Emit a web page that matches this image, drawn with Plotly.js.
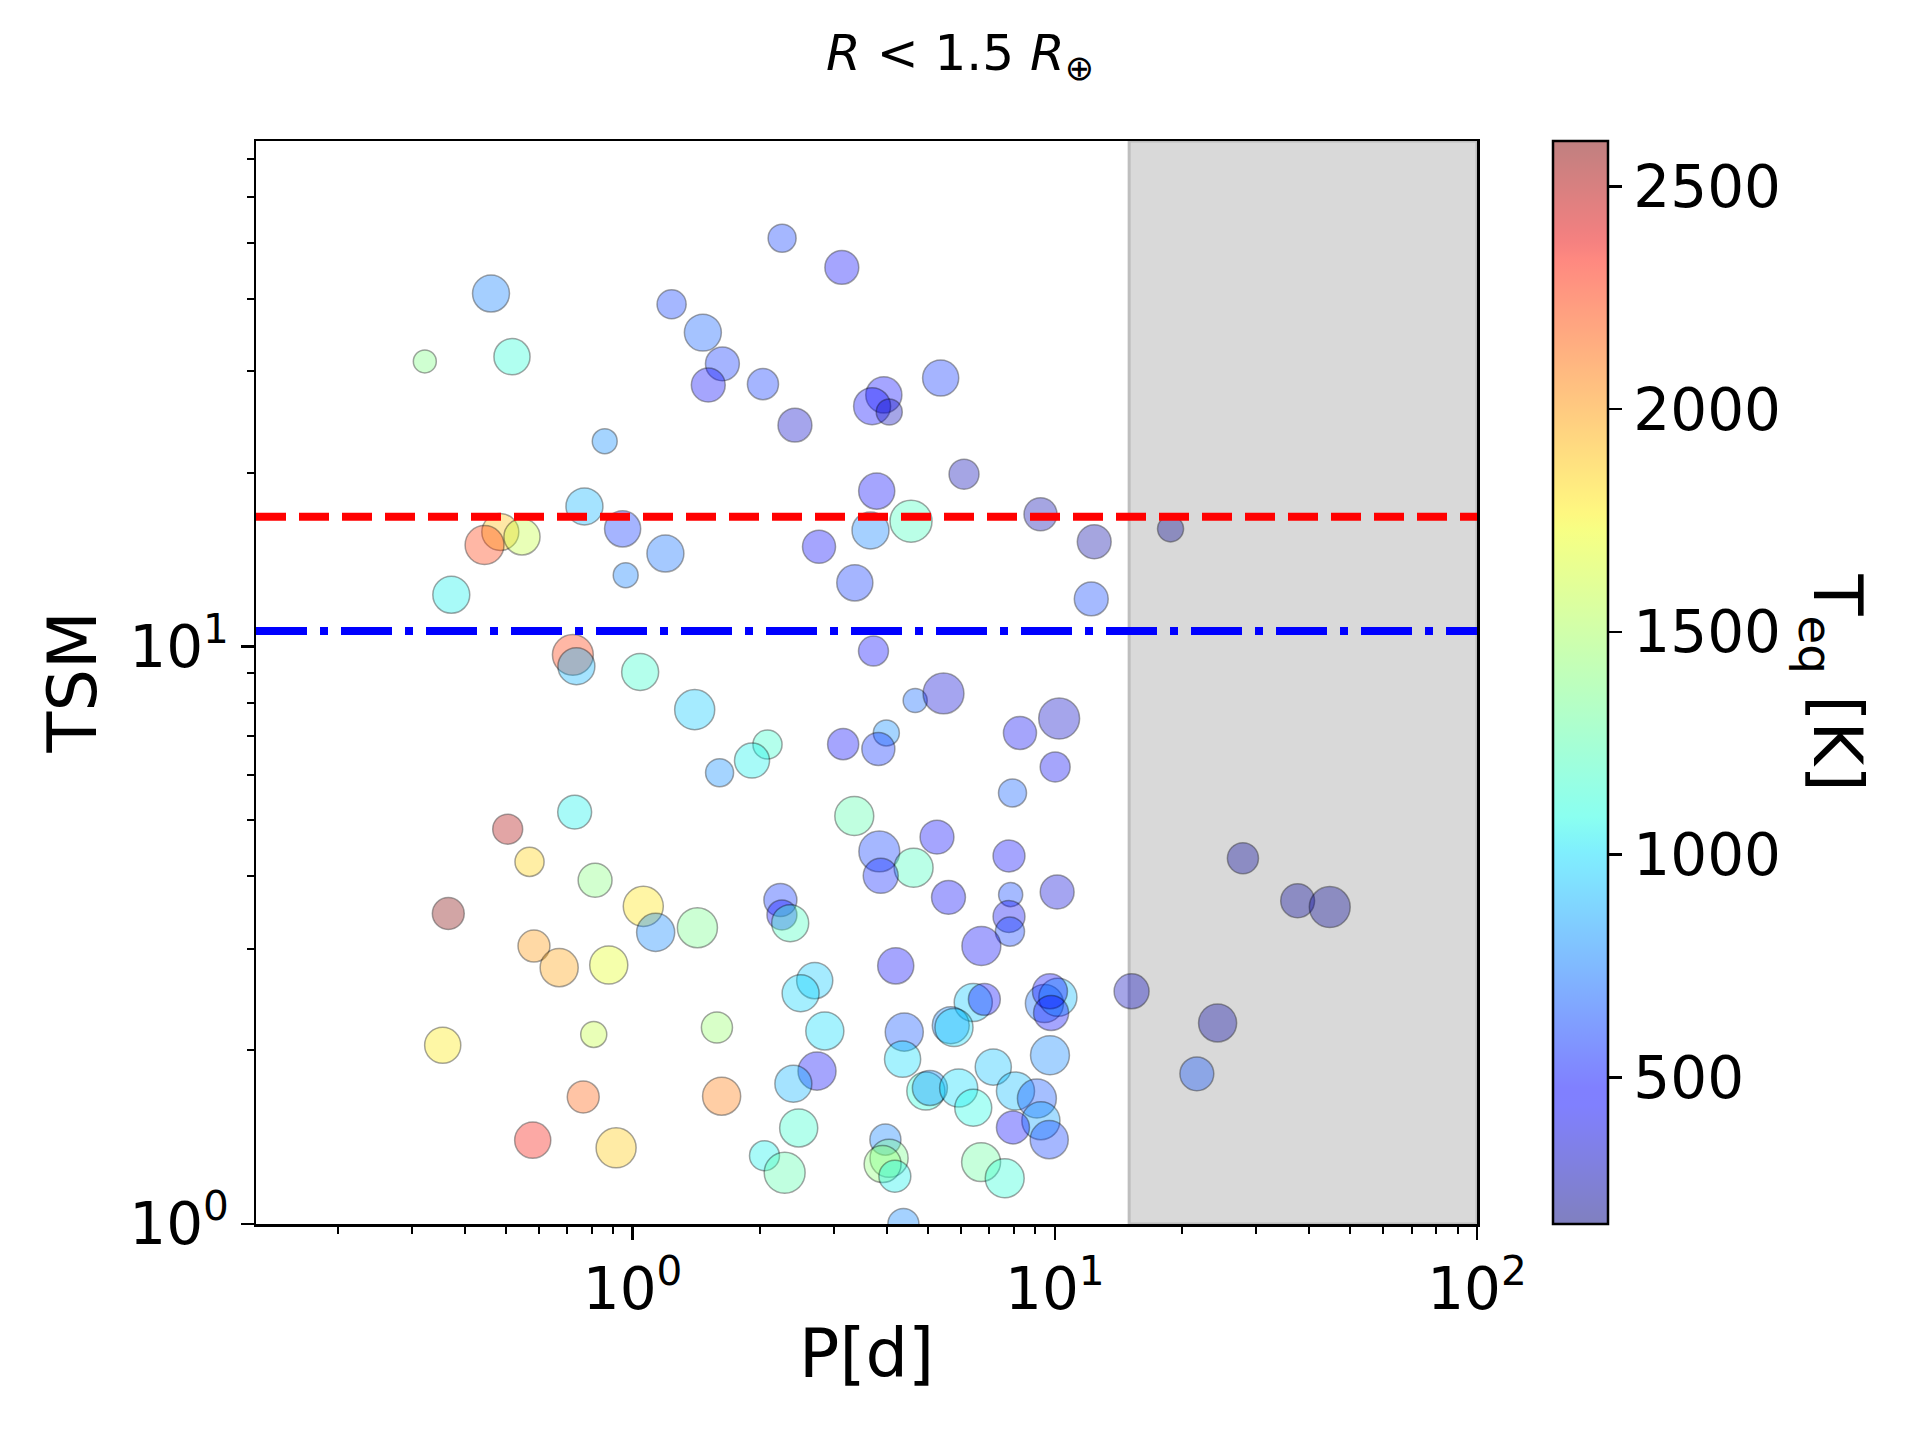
<!DOCTYPE html>
<html>
<head>
<meta charset="utf-8">
<script src="https://cdn.plot.ly/plotly-3.0.1.min.js"></script>
<style>
  html, body { margin: 0; padding: 0; background: #ffffff; }
  #chart { width: 1920px; height: 1440px; }
</style>
</head>
<body>
<div id="chart"></div>
<script>
// ---------------- data ----------------
// orbital period [days]
const period = [
  2.26, 3.13, 0.462, 1.237, 1.467, 0.322, 0.518, 1.632, 1.511, 2.036,
  5.366, 3.936, 3.692, 4.054, 2.424, 0.859, 6.095, 3.786, 0.769, 4.565,
  9.25, 18.8, 0.947, 0.486, 0.446, 0.547, 3.66, 2.764, 12.4, 1.196,
  0.963, 3.36, 0.372, 12.2,
  0.722, 0.736, 1.042, 1.403, 2.087, 1.918, 1.607, 3.153, 0.729, 0.506,
  0.570, 0.815, 3.35, 0.366, 1.060, 1.134, 1.424, 2.239, 2.258, 2.362,
  0.584, 0.670, 0.878, 2.70, 2.50, 2.853, 0.355, 0.809, 1.584, 2.734,
  2.403, 0.764, 1.625, 2.474, 0.580, 0.914, 2.053, 2.292,
  3.72, 4.67, 5.45, 10.24, 8.27, 3.99, 3.82, 10.02, 7.94, 5.26,
  3.84, 4.63, 3.87, 7.79, 10.13, 5.60, 7.86, 7.79, 7.83, 6.70,
  4.20, 15.2, 24.3, 21.7, 27.9, 37.6, 44.8,
  6.41, 6.81, 9.45, 10.17, 9.74, 9.80, 4.40, 4.36, 5.67, 5.77,
  9.74, 7.15, 4.95, 5.06, 5.92, 6.41, 8.07, 9.07, 9.27, 7.96,
  9.70, 3.97, 4.05, 3.91, 4.18, 6.69, 7.61, 4.38
];
// transmission spectroscopy metric
const tsm = [
  51.0, 45.4, 40.9, 39.2, 35.0, 31.2, 31.8, 30.9, 28.4, 28.5,
  29.2, 27.3, 26.1, 25.5, 24.2, 22.7, 19.9, 18.6, 17.5, 16.5,
  16.96, 16.0, 16.0, 15.8, 15.0, 15.5, 15.9, 14.9, 15.2, 14.5,
  13.3, 12.9, 12.3, 12.1,
  9.68, 9.25, 9.04, 7.78, 6.77, 6.35, 6.05, 6.78, 5.17, 4.83,
  4.24, 3.94, 5.09, 3.45, 3.55, 3.20, 3.26, 3.64, 3.43, 3.32,
  3.03, 2.78, 2.81, 2.64, 2.51, 2.16, 2.04, 2.13, 2.19, 1.84,
  1.75, 1.66, 1.665, 1.467, 1.397, 1.355, 1.313, 1.227,
  9.83, 8.07, 8.30, 7.51, 7.09, 7.09, 6.65, 6.19, 5.58, 4.68,
  4.42, 4.14, 4.01, 4.34, 3.76, 3.68, 3.72, 3.41, 3.21, 3.03,
  2.80, 2.53, 2.23, 1.82, 4.30, 3.63, 3.54,
  2.42, 2.45, 2.41, 2.47, 2.53, 2.32, 2.15, 1.93, 2.21, 2.19,
  1.96, 1.87, 1.70, 1.72, 1.72, 1.59, 1.70, 1.65, 1.51, 1.47,
  1.40, 1.40, 1.30, 1.27, 1.21, 1.28, 1.20, 1.00
];
// equilibrium temperature [K]
const teq = [
  600, 450, 760, 600, 680, 1380, 1120, 580, 430, 590,
  580, 470, 480, 300, 330, 800, 280, 440, 900, 1200,
  270, 200, 580, 1900, 2250, 1600, 770, 450, 250, 720,
  760, 590, 1050, 620,
  2250, 900, 1150, 950, 1150, 1050, 800, 450, 1050, 2500,
  1850, 1400, 1250, 2600, 1800, 780, 1350, 580, 470, 1200,
  2000, 1980, 1700, 950, 980, 1000, 1780, 1600, 1450, 430,
  900, 2150, 2080, 1150, 2350, 1870, 1050, 1250,
  470, 700, 350, 320, 420, 800, 570, 420, 680, 440,
  600, 1200, 540, 440, 360, 430, 620, 420, 600, 430,
  440, 300, 250, 650, 230, 230, 220,
  950, 480, 720, 920, 450, 440, 650, 1000, 780, 1000,
  780, 930, 1100, 800, 1000, 1080, 920, 650, 850, 470,
  600, 770, 1350, 1420, 1050, 1300, 1120, 780
];
// planet radius [R_earth] (drives the marker size)
const radius = [
  1.00, 1.21, 1.32, 1.04, 1.32, 0.82, 1.29, 1.21, 1.21, 1.11,
  1.29, 1.29, 1.32, 0.93, 1.21, 0.89, 1.07, 1.29, 1.32, 1.50,
  1.18, 0.93, 1.29, 1.32, 1.39, 1.29, 1.32, 1.18, 1.21, 1.32,
  0.89, 1.29, 1.32, 1.21,
  1.46, 1.32, 1.32, 1.43, 1.04, 1.25, 1.00, 1.11, 1.21, 1.07,
  1.04, 1.21, 1.39, 1.14, 1.43, 1.36, 1.43, 1.18, 1.07, 1.32,
  1.14, 1.36, 1.36, 1.29, 1.32, 1.36, 1.29, 0.93, 1.11, 1.36,
  1.32, 1.14, 1.36, 1.36, 1.29, 1.43, 1.07, 1.46,
  1.07, 0.86, 1.46, 1.46, 1.18, 0.93, 1.18, 1.07, 1.00, 1.21,
  1.46, 1.39, 1.25, 1.14, 1.21, 1.21, 0.86, 1.14, 1.04, 1.39,
  1.29, 1.25, 1.36, 1.21, 1.11, 1.21, 1.46,
  1.36, 1.14, 1.36, 1.36, 1.25, 1.25, 1.36, 1.29, 1.32, 1.36,
  1.39, 1.29, 1.36, 1.25, 1.36, 1.32, 1.36, 1.39, 1.36, 1.18,
  1.36, 1.11, 1.36, 1.32, 1.14, 1.39, 1.39, 1.11
];

// thresholds
const tsmRed = 16.8;      // red dashed line
const tsmBlue = 10.65;    // blue dash-dot line
const periodCut = 15;     // start of shaded region [days]
const periodMax = 100;    // right edge of the axis [days]

// colour range and ticks
const teqMin = 171, teqMax = 2602;
const cbTicks = [500, 1000, 1500, 2000, 2500];
const xTickVals = [1, 10, 100];
const xTickText = ['10<sup>0</sup>', '10<sup>1</sup>', '10<sup>2</sup>'];
const xMinorVals = [0.2,0.3,0.4,0.5,0.6,0.7,0.8,0.9, 2,3,4,5,6,7,8,9, 20,30,40,50,60,70,80,90];
const yTickVals = [1, 10];
const yTickText = ['10<sup>0</sup>', '10<sup>1</sup>'];
const yMinorVals = [2,3,4,5,6,7,8,9, 20,30,40,50,60,70];

// ---------------- styling ----------------
function interp(t, xs, ys) {
  for (let i = 1; i < xs.length; i++) {
    if (t <= xs[i]) {
      const f = (t - xs[i-1]) / (xs[i] - xs[i-1]);
      return ys[i-1] + f * (ys[i] - ys[i-1]);
    }
  }
  return ys[ys.length - 1];
}
function jet(t) {
  const r = interp(t, [0, 0.35, 0.66, 0.89, 1], [0, 0, 1, 1, 0.5]);
  const g = interp(t, [0, 0.125, 0.375, 0.64, 0.91, 1], [0, 0, 1, 1, 0, 0]);
  const b = interp(t, [0, 0.11, 0.34, 0.65, 1], [0.5, 1, 1, 0, 0]);
  return [r, g, b];
}
const jetScale = [];
for (let i = 0; i <= 64; i++) {
  const t = i / 64;
  const c = jet(t).map(v => Math.round(v * 255));
  jetScale.push([t, 'rgba(' + c[0] + ',' + c[1] + ',' + c[2] + ',0.5)']);
}

const FONT = 'DejaVu Sans, Verdana, sans-serif';
const W = 1920, H = 1440;
const L = 256, R = 443, T = 141, B = 216;
const plotW = W - L - R, plotH = H - T - B;
const px2paperX = px => (px - L) / plotW;
const px2paperY = py => (H - B - py) / plotH;

const trace = {
  type: 'scatter',
  mode: 'markers',
  x: period,
  y: tsm,
  cliponaxis: true,
  marker: {
    size: radius.map(r => r * 28),
    color: teq,
    cmin: teqMin,
    cmax: teqMax,
    colorscale: jetScale,
    line: { color: 'rgba(0,0,0,0.5)', width: 1.5 },
    colorbar: {
      x: px2paperX(1553), xanchor: 'left', xref: 'paper',
      y: 0.5, yanchor: 'middle',
      len: 1, lenmode: 'fraction',
      thickness: 55, thicknessmode: 'pixels',
      xpad: 0, ypad: 0,
      outlinewidth: 2.5, outlinecolor: '#000000',
      borderwidth: 0,
      tickmode: 'array', tickvals: cbTicks,
      ticks: 'outside', ticklen: 13, tickwidth: 2.5, tickcolor: '#000000',
      tickfont: { family: FONT, size: 58, color: '#000000' }
    }
  },
  hoverinfo: 'x+y'
};

const axisCommon = {
  type: 'log',
  showgrid: false,
  zeroline: false,
  showline: true,
  linecolor: '#000000',
  linewidth: 2.5,
  mirror: true,
  ticks: 'outside',
  ticklen: 13,
  tickwidth: 2.5,
  tickcolor: '#000000',
  tickfont: { family: FONT, size: 58, color: '#000000' },
  tickmode: 'array'
};

const layout = {
  width: W, height: H,
  margin: { l: L, r: R, t: T, b: B, pad: 0 },
  paper_bgcolor: '#ffffff',
  plot_bgcolor: '#ffffff',
  showlegend: false,
  title: {
    text: '<i>R</i> &lt; 1.5 <i>R</i><sub>⊕</sub>',
    font: { family: FONT, size: 50, color: '#000000' },
    xref: 'container', x: 0.5, xanchor: 'center',
    yref: 'container', y: 1 - 52 / H, yanchor: 'middle'
  },
  xaxis: Object.assign({}, axisCommon, {
    range: [-0.892, 2],
    tickvals: xTickVals, ticktext: xTickText,
    minor: { tickmode: 'array', tickvals: xMinorVals, ticks: 'outside', ticklen: 7, tickwidth: 2, tickcolor: '#000000', showgrid: false }
  }),
  yaxis: Object.assign({}, axisCommon, {
    range: [0, 1.876],
    tickvals: yTickVals, ticktext: yTickText,
    minor: { tickmode: 'array', tickvals: yMinorVals, ticks: 'outside', ticklen: 7, tickwidth: 2, tickcolor: '#000000', showgrid: false }
  }),
  shapes: [
    { type: 'rect', layer: 'below', xref: 'x', yref: 'paper',
      x0: periodCut, x1: periodMax, y0: 0, y1: 1,
      fillcolor: '#d9d9d9', line: { color: '#bebebe', width: 3 } },
    { type: 'line', layer: 'above', xref: 'paper', yref: 'y',
      x0: 0, x1: 1, y0: tsmRed, y1: tsmRed,
      line: { color: '#ff0000', width: 8, dash: '30px,13px' } },
    { type: 'line', layer: 'above', xref: 'paper', yref: 'y',
      x0: 0, x1: 1, y0: tsmBlue, y1: tsmBlue,
      line: { color: '#0000ff', width: 8, dash: '51px,13px,8px,13px' } }
  ],
  annotations: [
    { text: 'P[d]', xref: 'paper', yref: 'paper',
      x: 0.5, y: px2paperY(1354), xanchor: 'center', yanchor: 'middle',
      showarrow: false, font: { family: FONT, size: 67, color: '#000000' } },
    { text: 'TSM', xref: 'paper', yref: 'paper', textangle: -90,
      x: px2paperX(72), y: 0.5, xanchor: 'center', yanchor: 'middle',
      showarrow: false, font: { family: FONT, size: 67, color: '#000000' } },
    { text: 'T<sub>eq</sub> [K]', xref: 'paper', yref: 'paper', textangle: 90,
      x: px2paperX(1832), y: 0.5, xanchor: 'center', yanchor: 'middle',
      showarrow: false, font: { family: FONT, size: 67, color: '#000000' } }
  ]
};

Plotly.newPlot('chart', [trace], layout, { displayModeBar: false, staticPlot: true });
</script>
</body>
</html>
